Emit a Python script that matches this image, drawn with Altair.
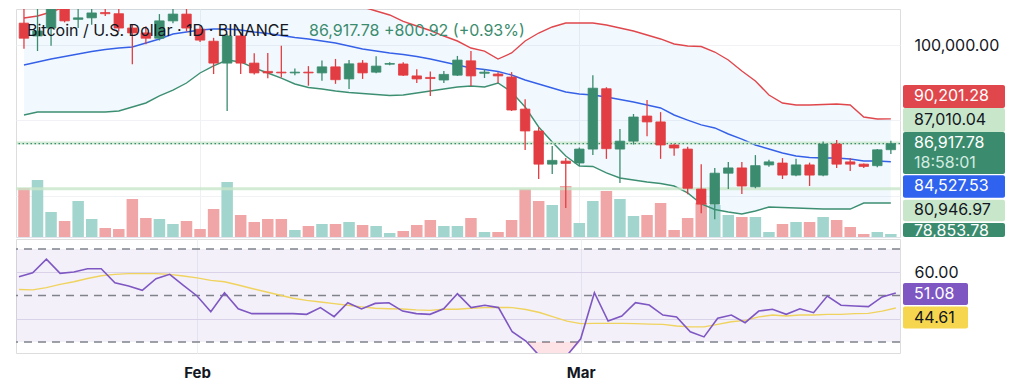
import altair as alt
import pandas as pd

# ---------------- data ----------------
dates = pd.date_range("2025-01-19", "2025-03-24", freq="D").strftime("%Y-%m-%d").tolist()

opens = [102900, 101200, 102250, 106100, 103400, 103600, 104300, 104150, 102250, 101600,
         100900, 103200, 104100, 102100, 100500, 97600, 101200, 97600, 96500, 96400,
         96300, 96400, 96300, 97100, 95500, 97600, 96400, 97450, 97480, 95900,
         95700, 95360, 96000, 97900, 96250, 96150, 95750, 91500, 88600, 84200,
         84600, 84350, 86200, 94200, 86200, 87250, 90580, 89800, 86740, 86200,
         80900, 78900, 83000, 83700, 81200, 84100, 84350, 82750, 84100, 82750,
         86870, 84500, 84200, 84000, 86117]
highs = [105000, 109500, 107200, 106400, 106800, 107100, 104800, 105200, 102800, 102500,
         104100, 105300, 105500, 102600, 100950, 101500, 101700, 98900, 98950, 99900,
         96900, 97200, 97950, 98150, 98000, 98000, 98500, 97700, 97700, 96800,
         96500, 96550, 98550, 99200, 96800, 96400, 96400, 92800, 89100, 86600,
         85000, 86400, 96000, 94400, 88860, 90850, 92700, 91100, 86900, 86500,
         84200, 83700, 84500, 84500, 85400, 84800, 85000, 84900, 84400, 87200,
         87400, 85000, 84300, 86200, 87300]
lows = [99500, 99200, 99900, 103000, 102250, 102700, 103850, 101800, 97450, 100100,
        100600, 102900, 101800, 100400, 96150, 91250, 96150, 96100, 95600, 95700,
        96000, 94600, 95250, 94850, 94150, 95500, 96250, 97300, 95900, 94950,
        93250, 94950, 95900, 94550, 95620, 94950, 91250, 86070, 82230, 82900,
        78400, 83950, 85400, 84900, 81700, 86800, 87900, 84900, 85300, 80200,
        77700, 76900, 80900, 80250, 81000, 83850, 82230, 82600, 81300, 82600,
        83700, 83300, 83700, 83800, 85550]
closes = [100900, 101850, 106100, 103200, 103600, 104250, 104150, 102250, 101600, 100900,
          103200, 104100, 102250, 100650, 97600, 101200, 97600, 96300, 96300, 96300,
          96400, 96300, 97100, 95400, 97500, 96300, 97200, 97550, 96000, 95500,
          95550, 96100, 98000, 95900, 96400, 95900, 91380, 88600, 84200, 84700,
          84300, 86200, 94270, 86250, 87250, 90450, 89800, 86740, 86340, 81000,
          78900, 83000, 83700, 81300, 84000, 84500, 82750, 84100, 82750, 86870,
          84200, 84200, 83900, 86100, 86917.78]
volumes = [49000, 57000, 25000, 16000, 36000, 18000, 9000, 8000, 38000, 19000,
           18000, 13000, 16000, 8000, 28000, 55000, 22000, 15000, 18000, 18000,
           7000, 11000, 13000, 13000, 15000, 12000, 11000, 4000, 6000, 12000,
           17000, 11000, 11000, 19000, 5000, 5000, 17000, 48000, 36000, 32000,
           51000, 14000, 36000, 46000, 38000, 21000, 22000, 34000, 7000, 19000,
           34000, 32000, 22000, 20000, 20000, 5000, 13000, 15000, 15000, 20000,
           17000, 10000, 3000, 5000, 3000]
bb_upper = [103580, 103850, 104380, 105040, 106480, 107160, 107680, 107950, 107680, 108230,
            108360, 108890, 108480, 107690, 107020, 106230, 106230, 106490, 106750, 106900,
            107150, 107240, 106890, 106640, 106040, 105040, 104510, 103980, 103120, 102520,
            101920, 101190, 100530, 99600, 99200, 98140, 98940, 100530, 101590, 102390,
            102920, 102920, 102920, 102650, 102250, 101860, 101330, 100800, 100130, 99870,
            99800, 99070, 98010, 96550, 95230, 93370, 92310, 92040, 92040, 92110,
            92180, 92040, 90450, 90190, 90201.28]
bb_basis = [97350, 97750, 98150, 98480, 98800, 99140, 99400, 99600, 99730, 100270,
            100800, 101460, 101720, 101990, 102120, 102120, 101990, 101720, 101520, 101260,
            100990, 100800, 100530, 100270, 99870, 99470, 99200, 98940, 98740, 98480,
            98140, 97750, 97350, 96950, 96750, 96490, 96020, 95360, 94830, 94300,
            93770, 93500, 93370, 93100, 92770, 92440, 92040, 91650, 90720, 90050,
            89400, 89000, 88200, 87530, 86740, 86210, 85680, 85280, 85080, 85020,
            85020, 84880, 84620, 84620, 84527.53]
bb_lower = [90720, 91120, 91120, 91120, 91120, 91120, 91120, 91250, 91780, 92310,
            93240, 94030, 94960, 96290, 97220, 98010, 97750, 96950, 96290, 95620,
            94830, 94360, 94170, 93900, 93700, 93570, 93440, 93300, 93370, 93640,
            93900, 94170, 94430, 94560, 94430, 94960, 93770, 91780, 89130, 87140,
            85280, 83950, 83890, 83030, 82360, 82100, 81830, 81640, 81300, 80380,
            78920, 78190, 77850, 77590, 77990, 78520, 78450, 78390, 78320, 78250,
            78250, 78250, 79050, 79050, 79050]
rsi = [58.1, 59.8, 65.6, 59.5, 60.1, 61.5, 61.5, 55.5, 54.1, 52.2,
       57.2, 59.1, 54.4, 49.8, 43.0, 51.2, 44.3, 42.2, 42.2, 42.2,
       42.2, 41.9, 44.8, 40.9, 46.9, 44.2, 46.6, 46.9, 43.3, 42.2,
       41.9, 44.3, 50.8, 44.8, 45.8, 44.8, 34.4, 30.4, 24.0, 24.5,
       24.2, 31.4, 51.2, 39.0, 41.2, 46.9, 45.9, 41.6, 40.8, 34.4,
       32.2, 40.2, 41.6, 38.3, 43.3, 44.1, 41.9, 44.3, 42.6, 49.8,
       45.8, 45.5, 45.2, 49.4, 51.08]
rsi_ma = [52.6, 52.4, 53.4, 54.8, 55.9, 57.3, 58.5, 59.1, 59.4, 59.4,
          59.4, 59.1, 58.4, 57.6, 56.5, 55.9, 54.5, 53.0, 51.6, 50.2,
          48.8, 47.9, 47.2, 46.5, 45.8, 45.1, 44.5, 44.3, 44.2, 43.8,
          43.6, 44.1, 44.1, 44.5, 44.8, 44.9, 44.8, 44.0, 42.7, 40.8,
          39.0, 37.9, 38.0, 38.0, 38.0, 37.9, 37.7, 37.6, 36.9, 36.5,
          36.5, 37.6, 38.7, 39.3, 40.8, 41.6, 41.2, 41.6, 41.6, 41.9,
          41.9, 42.2, 42.3, 43.3, 44.61]

title_text = ["Bitcoin / U.S. Dollar · 1D · BINANCE"]
quote_text = ["86,917.78  +800.92 (+0.93%)"]
countdown = ["18:58:01"]
price_labels = [90201.28, 87010.04, 86917.78, 84527.53, 80946.97, 78853.78]
rsi_labels = [51.08, 44.61]
rsi_levels = [70, 50, 30]

# ---------------- styles ----------------
UP, DOWN = "#3b8c6e", "#e23d42"
VOL_UP, VOL_DOWN = "#a3d5cf", "#f0a6a6"
FONT = "Inter"
W, H_MAIN, H_RSI = 884, 228, 114

df = pd.DataFrame(dict(date=dates, open=opens, high=highs, low=lows, close=closes,
                       volume=volumes, upper=bb_upper, basis=bb_basis, lower=bb_lower,
                       rsi=rsi, rsi_ma=rsi_ma))
df["dir"] = ["up" if c >= o else "down" for o, c in zip(opens, closes)]

t0 = pd.Timestamp("2025-01-19", tz="UTC")
x_dom = [int((t0 - pd.Timedelta(days=3 / 13.7)).timestamp() * 1000),
         int((t0 + pd.Timedelta(days=881 / 13.7)).timestamp() * 1000)]
x_scale = alt.Scale(type="utc", domain=x_dom)
month_ticks = [alt.DateTime(year=2025, month=2, date=1, utc=True),
               alt.DateTime(year=2025, month=3, date=1, utc=True)]

x_main = alt.X("date:T", scale=x_scale, title=None,
               axis=alt.Axis(values=month_ticks, labels=False, ticks=False, domain=True,
                             domainColor="#e0e3eb", grid=True, gridColor="#eef0f3"))
x_rsi = alt.X("date:T", scale=x_scale, title=None,
              axis=alt.Axis(values=month_ticks, labelExpr="utcFormat(datum.value, '%b')",
                            labelFontWeight="bold", labelFontSize=15, labelColor="#131722",
                            labelPadding=12, ticks=False, domain=False, grid=True,
                            gridColor="#eef0f3"))

y_scale = alt.Scale(domain=[74540, 104774], nice=False, zero=False)
y_axis = alt.Axis(orient="right", values=[80000, 90000, 100000], grid=True, gridColor="#f0f2f5",
                  labelExpr="datum.value == 100000 ? format(datum.value, ',.2f') : ''",
                  labelFontSize=16, labelColor="#131722", labelPadding=14, ticks=False,
                  domain=False, title=None)


def py(field):
    return alt.Y(f"{field}:Q", scale=y_scale, axis=y_axis, title=None)


r_scale = alt.Scale(domain=[25.27, 74.3], nice=False, zero=False)
r_axis = alt.Axis(orient="right", values=[40, 60], grid=True, gridColor="#e4dfee",
                  labelExpr="datum.value == 60 ? format(datum.value, '.2f') : ''",
                  labelFontSize=16, labelColor="#131722", labelPadding=14, ticks=False,
                  domain=False, title=None)


def ry(field):
    return alt.Y(f"{field}:Q", scale=r_scale, axis=r_axis, title=None)


base = alt.Chart(df)

# ---------------- main pane ----------------
volume = base.mark_bar(size=11.5, clip=True).encode(
    x=x_main,
    y=alt.Y("volume:Q", scale=alt.Scale(domain=[0, 228000], nice=False), axis=None, stack=None),
    color=alt.Color("dir:N", scale=alt.Scale(domain=["up", "down"], range=[VOL_UP, VOL_DOWN]),
                    legend=None),
)

band = base.mark_area(color="#2196f3", opacity=0.06, clip=True).encode(
    x=x_main, y=py("upper"), y2="lower:Q")
upper_line = base.mark_line(color="#e0474c", strokeWidth=1.4, clip=True).encode(x=x_main, y=py("upper"))
basis_line = base.mark_line(color="#3560e8", strokeWidth=1.4, clip=True).encode(x=x_main, y=py("basis"))
lower_line = base.mark_line(color="#3d8f72", strokeWidth=1.4, clip=True).encode(x=x_main, y=py("lower"))

levels_df = pd.DataFrame({"v": price_labels})
light_lines = alt.Chart(levels_df).transform_filter(
    "datum.v == 80946.97 || datum.v == 87010.04").mark_rule(
    color="#c8e6c9", strokeWidth=3, opacity=0.8).encode(y=py("v"))
dotted = alt.Chart(levels_df).transform_filter("datum.v == 86917.78").mark_rule(
    color=UP, strokeDash=[1.5, 2.5], strokeWidth=1.4).encode(y=py("v"))

candle_layers = []
for d, col in [("up", UP), ("down", DOWN)]:
    sub = base.transform_filter(f"datum.dir == '{d}'")
    candle_layers.append(sub.mark_rule(color=col, strokeWidth=1.3, clip=True).encode(
        x=x_main, y=py("low"), y2="high:Q"))
    candle_layers.append(sub.mark_bar(size=9.5, color=col, stroke=col, strokeWidth=0.8,
                                      clip=True).encode(x=x_main, y=py("open"), y2="close:Q"))

title1 = alt.Chart(pd.DataFrame({"t": title_text})).mark_text(
    align="left", baseline="middle", fontSize=16, color="#131722").encode(
    x=alt.value(11), y=alt.value(22), text="t:N")
title2 = alt.Chart(pd.DataFrame({"t": quote_text})).mark_text(
    align="left", baseline="middle", fontSize=16, color=UP).encode(
    x=alt.value(293), y=alt.value(22), text="t:N")

# price labels on the right (value, background, text colour, box top/bottom offset, text offset)
label_style = {
    90201.28: ("#e0474c", "white", -34, -11, -22.4),
    87010.04: ("#c8e6c9", "#131722", -35, -11, -23),
    86917.78: (UP, "white", -11.7, 30.3, -0.7),
    84527.53: ("#2f62ef", "white", 13.5, 36, 24.8),
    80946.97: ("#c8e6c9", "#131722", 11, 32.5, 21.8),
    78853.78: (UP, "white", 18.5, 32.5, 26.5),
}
label_layers = []
for v in price_labels:
    bg, fg, top, bot, toff = label_style[v]
    ld = alt.Chart(levels_df).transform_filter(f"datum.v == {v}")
    label_layers.append(ld.mark_rect(color=bg, yOffset=top, y2Offset=bot, cornerRadius=2).encode(
        x=alt.value(887), x2=alt.value(989), y=py("v"), y2="v:Q"))
    label_layers.append(ld.mark_text(align="left", baseline="middle", fontSize=16, dy=toff,
                                     color=fg).encode(
        x=alt.value(898), y=py("v"), text=alt.Text("v:Q", format=",.2f")))
cd = alt.Chart(pd.DataFrame({"v": [86917.78], "t": countdown})).mark_text(
    align="left", baseline="middle", fontSize=16, dy=19.5, color="#d3ebe1").encode(
    x=alt.value(898), y=py("v"), text="t:N")

price_group = alt.layer(band, upper_line, basis_line, lower_line, light_lines, dotted,
                        *candle_layers, title1, title2, *label_layers, cd)
main = alt.layer(volume, price_group).resolve_scale(y="independent").properties(
    width=W, height=H_MAIN)

# ---------------- RSI pane ----------------
rsi_bg = alt.Chart(pd.DataFrame({"hi": [70], "lo": [30]})).mark_rect(
    color="#7e57c2", opacity=0.09).encode(
    x=alt.value(0), x2=alt.value(W), y=ry("hi"), y2="lo:Q")
rsi_rules = alt.Chart(pd.DataFrame({"lv": rsi_levels})).mark_rule(
    color="#80838c", strokeDash=[8, 6], strokeWidth=1.3).encode(y=ry("lv"))
oversold = base.transform_calculate(rlow="min(datum.rsi, 30)", thirty="30").mark_area(
    color="#f23645", opacity=0.14, clip=True).encode(x=x_rsi, y=ry("rlow"), y2="thirty:Q")
ma_line = base.mark_line(color="#f0d35e", strokeWidth=1.4, clip=True).encode(x=x_rsi, y=ry("rsi_ma"))
rsi_line = base.mark_line(color="#7e57c2", strokeWidth=1.6, clip=True).encode(x=x_rsi, y=ry("rsi"))

rl_df = pd.DataFrame({"v": rsi_labels})
rsi_style = {51.08: ("#7e57c2", "white", 1), 44.61: ("#f6d64e", "#131722", 9.5)}
rsi_label_layers = []
for v in rsi_labels:
    bg, fg, off = rsi_style[v]
    ld = alt.Chart(rl_df).transform_filter(f"datum.v == {v}")
    rsi_label_layers.append(ld.mark_rect(color=bg, yOffset=off - 11, y2Offset=off + 11,
                                         cornerRadius=2).encode(
        x=alt.value(887), x2=alt.value(952), y=ry("v"), y2="v:Q"))
    rsi_label_layers.append(ld.mark_text(align="left", baseline="middle", fontSize=16, dy=off,
                                         color=fg).encode(
        x=alt.value(898), y=ry("v"), text=alt.Text("v:Q", format=".2f")))

rsi_pane = alt.layer(rsi_bg, rsi_rules, oversold, ma_line, rsi_line, *rsi_label_layers).properties(
    width=W, height=H_RSI)

chart = alt.vconcat(main, rsi_pane, spacing=2, bounds="flush").properties(
    padding={"left": 6, "top": 0, "right": 0, "bottom": 0}
).configure_view(stroke=None).configure(font=FONT)

chart.save("out.html", embed_options={"renderer": "svg", "actions": False})
